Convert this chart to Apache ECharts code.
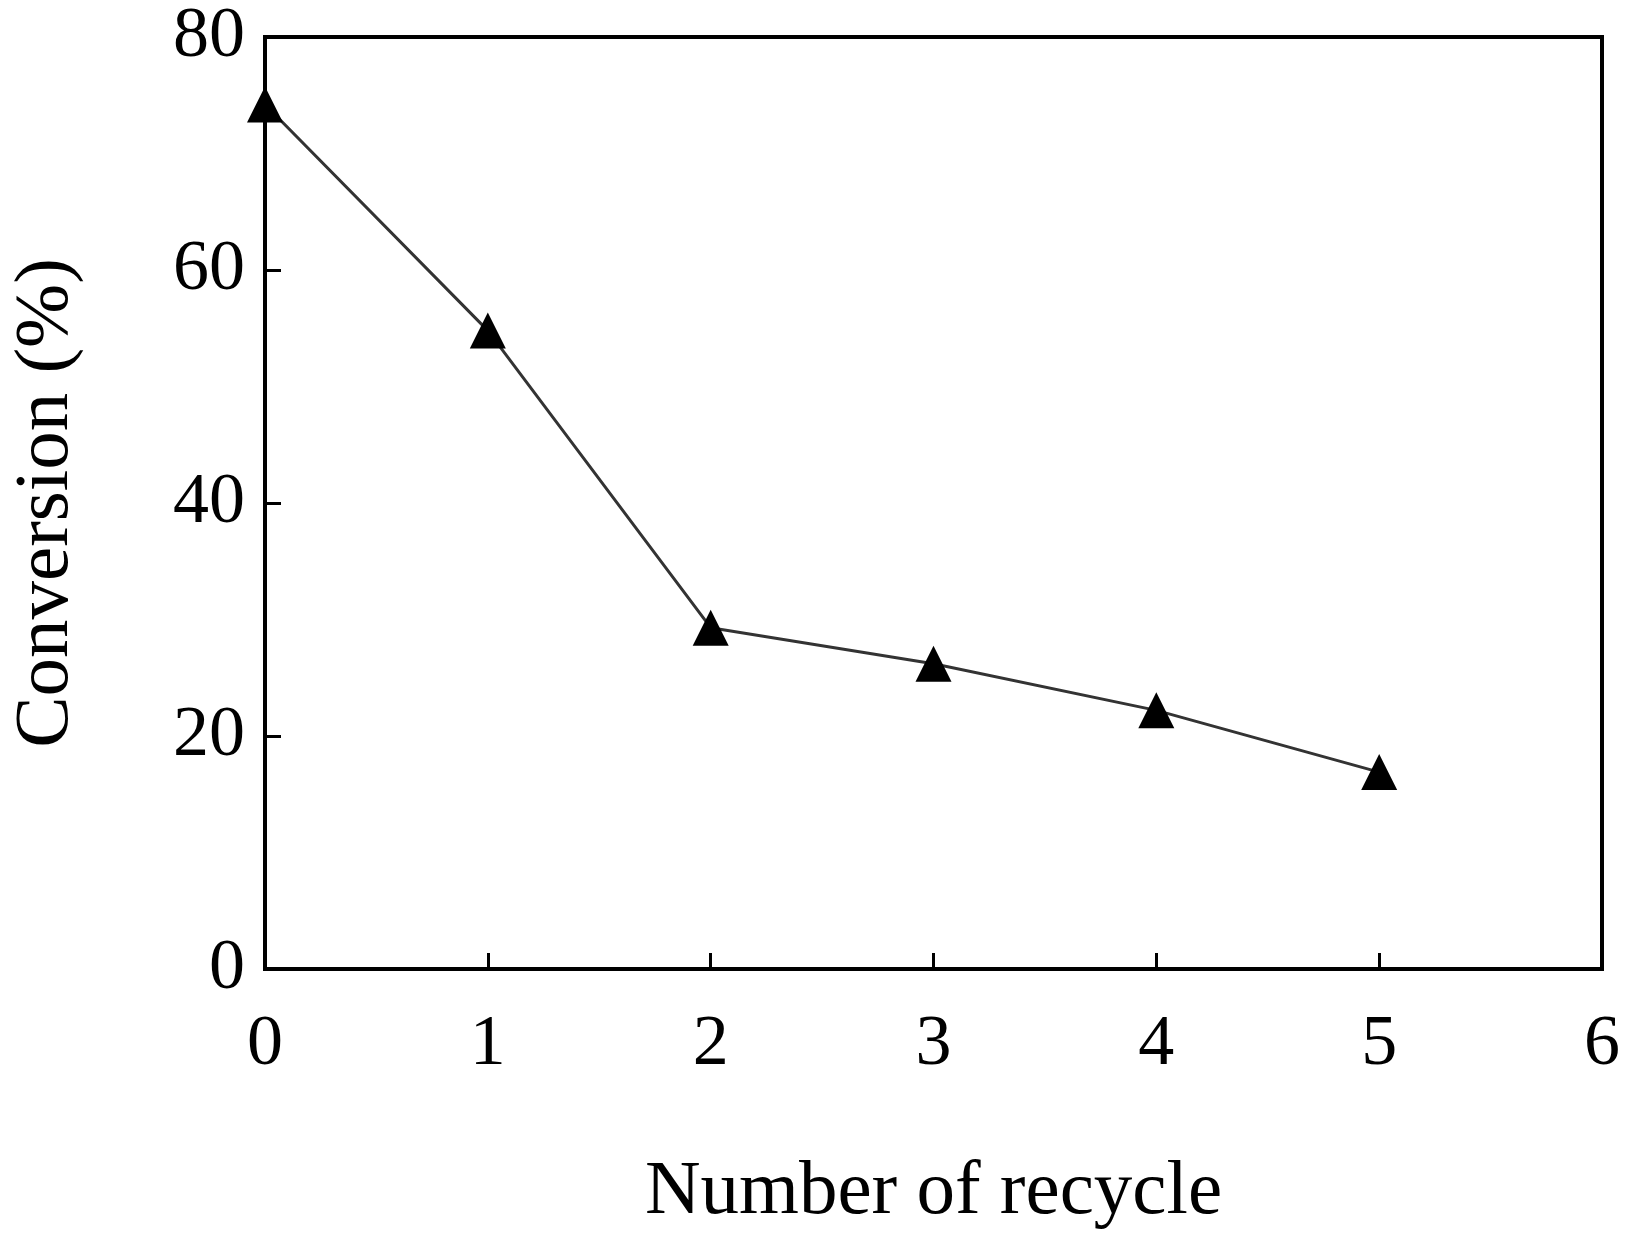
<!DOCTYPE html>
<html>
<head>
<meta charset="utf-8">
<script src="https://cdn.jsdelivr.net/npm/echarts@6/dist/echarts.min.js"></script>
<style>html,body{margin:0;padding:0;background:#fff}#chart{width:1633px;height:1236px}</style>
</head>
<body>
<div id="chart"></div>
<script>
// 循环次数与转化率
const cycles = [0, 1, 2, 3, 4, 5];
const conversion = [74.2, 54.8, 29.3, 26.2, 22.2, 16.9];

const font = "'Liberation Serif', 'DejaVu Serif', serif";
const chart = echarts.init(document.getElementById("chart"));
chart.setOption({
  animation: false,
  grid: { left: 218, right: 31, top: 37, bottom: 263, show: true, borderColor: "#000", borderWidth: 4 },
  xAxis: {
    type: "value", min: 0, max: 6, interval: 1,
    name: "Number of recycle", nameLocation: "middle", nameGap: 185,
    nameTextStyle: { fontFamily: font, fontSize: 77, color: "#000" },
    axisLine: { show: true, lineStyle: { color: "#000", width: 4 } },
    axisTick: { length: -16, lineStyle: { color: "#000", width: 3 } },
    axisLabel: { fontFamily: font, fontSize: 72, color: "#000", margin: 40 },
    splitLine: { show: false },
  },
  yAxis: {
    type: "value", min: 0, max: 80, interval: 20,
    name: "Conversion (%)", nameLocation: "middle", nameGap: 180,
    nameTextStyle: { fontFamily: font, fontSize: 77, color: "#000" },
    axisLine: { show: true, lineStyle: { color: "#000", width: 4 } },
    axisTick: { length: -16, lineStyle: { color: "#000", width: 3 } },
    axisLabel: { fontFamily: font, fontSize: 72, color: "#000", margin: 20 },
    splitLine: { show: false },
  },
  series: [{
    type: "line",
    data: cycles.map((c, i) => [c, conversion[i]]),
    symbol: "triangle", symbolSize: 36,
    itemStyle: { color: "#000" },
    lineStyle: { color: "#333", width: 3 },
  }],
});
</script>
</body>
</html>
